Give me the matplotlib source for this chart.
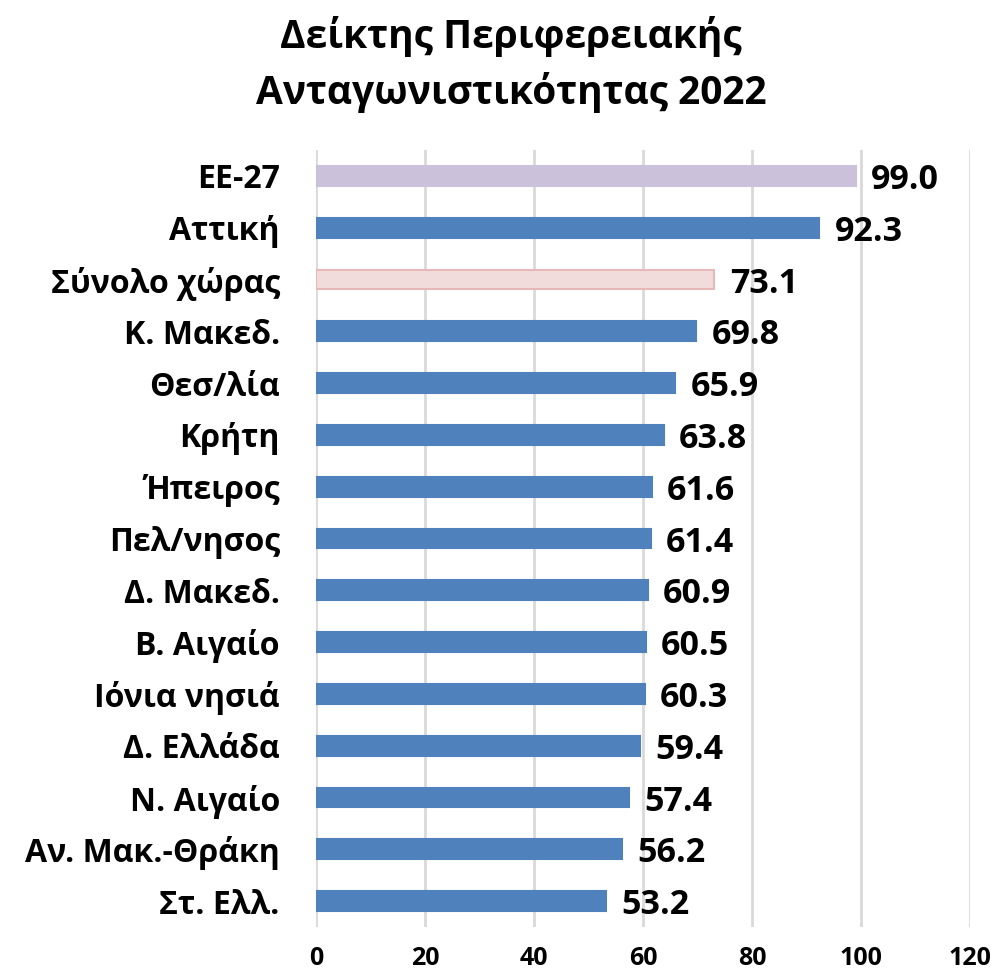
import matplotlib
matplotlib.use("Agg")
import matplotlib.pyplot as plt

plt.rcParams['font.family'] = ['Open Sans', 'DejaVu Sans']

regions = ["ΕΕ-27", "Αττική", "Σύνολο χώρας", "Κ. Μακεδ.", "Θεσ/λία", "Κρήτη",
           "Ήπειρος", "Πελ/νησος", "Δ. Μακεδ.", "Β. Αιγαίο", "Ιόνια νησιά",
           "Δ. Ελλάδα", "Ν. Αιγαίο", "Αν. Μακ.-Θράκη", "Στ. Ελλ."]
values = [99.0, 92.3, 73.1, 69.8, 65.9, 63.8, 61.6, 61.4, 60.9, 60.5, 60.3,
          59.4, 57.4, 56.2, 53.2]
xticks = [0, 20, 40, 60, 80, 100, 120]

face = []
edge = []
for r in regions:
    if r == "ΕΕ-27":
        face.append("#CCC1DA"); edge.append("#CCC1DA")
    elif r == "Σύνολο χώρας":
        face.append("#F2DCDB"); edge.append("#E6B9B8")
    else:
        face.append("#4F81BD"); edge.append("#4F81BD")

fig = plt.figure(figsize=(9.92, 9.76), dpi=100)
ax = fig.add_axes([0.3185, 0.0502, 0.6595, 0.7961])

pos = list(range(len(regions)))
ax.barh(pos, values, height=0.38, color=face, edgecolor=edge, linewidth=1.5, zorder=3)
ax.set_ylim(len(regions) - 0.5, -0.5)
ax.set_xlim(0, 120)
ax.set_xticks(xticks)
ax.set_xticklabels([str(t) for t in xticks], fontsize=18, fontweight="bold")
ax.set_yticks(pos)
ax.set_yticklabels(regions, fontsize=23, fontweight="bold")
ax.tick_params(length=0)
ax.tick_params(axis="y", pad=26)
ax.tick_params(axis="x", pad=14)
ax.grid(axis="x", color="#D9D9D9", linewidth=2, zorder=0)
for s in ax.spines.values():
    s.set_visible(False)

for p, v in zip(pos, values):
    ax.text(v + 2.8, p + 0.08, f"{v:.1f}", va="center", ha="left",
            fontsize=24.5, fontweight="bold")

fig.text(0.515, 0.934, "Δείκτης Περιφερειακής\nΑνταγωνιστικότητας 2022",
         ha="center", va="center", fontsize=28, fontweight="bold", linespacing=1.45)

fig.savefig("out.png", dpi=100)
